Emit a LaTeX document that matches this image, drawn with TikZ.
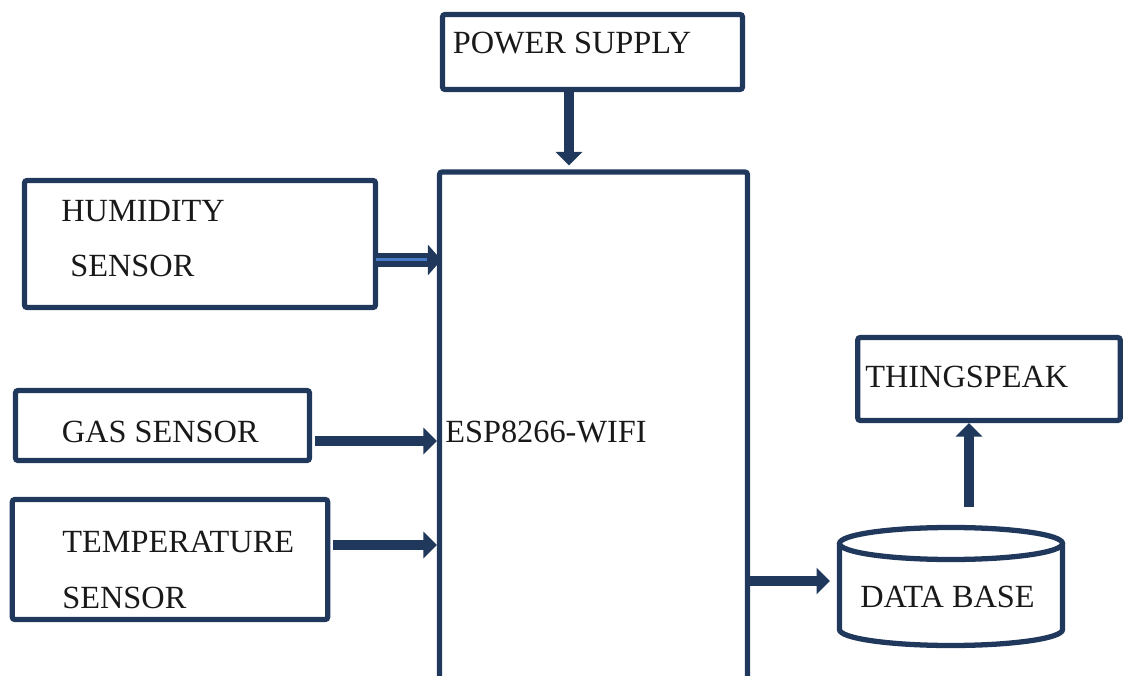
\documentclass[tikz,border=0pt]{standalone}
\usepackage{fontspec}
\setmainfont{Liberation Serif}
\usetikzlibrary{arrows.meta}
\definecolor{navy}{RGB}{31,56,91}
\definecolor{stripe}{RGB}{72,122,200}

\begin{document}
\begin{tikzpicture}[font=\fontsize{18.4}{22}\selectfont]
	\tikzstyle{box}=[draw=navy, line width=3pt, rounded corners=1.5pt, inner sep=0pt]
	\tikzstyle{txt}=[anchor=base west, inner sep=0pt, text=black!90]
	\tikzstyle{arr}=[navy, line width=0.2cm, -{Triangle[width=0.52cm,length=0.27cm]}]
	
	\useasboundingbox (0,0) rectangle (22.48,13.5);
	\clip (0,0) rectangle (22.48,13.5);
	
	% blocks
	\node[box, minimum width=6cm, minimum height=1.5cm] (power) at (11.85,12.46) {};
	\node[box, minimum width=6.16cm, minimum height=10.56cm] (esp) at (11.87,4.78) {};
	\node[box, minimum width=7.02cm, minimum height=2.54cm] (hum) at (4,8.62) {};
	\node[box, minimum width=5.88cm, minimum height=1.4cm] (gas) at (3.25,4.99) {};
	\node[box, minimum width=6.31cm, minimum height=2.4cm] (temp) at (3.4,2.31) {};
	\node[box, minimum width=5.25cm, minimum height=1.66cm] (thing) at (19.78,5.92) {};
	
	% data base
	\draw[navy, line width=3pt] (16.79,2.63) -- (16.79,0.91) arc[start angle=180, end angle=360, x radius=2.23cm, y radius=0.32cm] -- (21.25,2.63);
	\draw[navy, line width=3pt] (19.02,2.63) ellipse[x radius=2.23cm, y radius=0.32cm];
	
	% labels
	\node[txt] (power text) at (9.05,12.42) {POWER SUPPLY};
	\node[txt] (esp text) at (8.9,4.66) {ESP8266-WIFI};
	\node[txt] (hum text) at (1.22,9.06) {HUMIDITY};
	\node[txt] (hum text2) at (1.40,7.98) {SENSOR};
	\node[txt] (gas text) at (1.23,4.66) {GAS SENSOR};
	\node[txt] (temp text) at (1.24,2.46) {TEMPERATURE};
	\node[txt] (temp text2) at (1.24,1.34) {SENSOR};
	\node[txt] (thing text) at (17.3,5.76) {THINGSPEAK};
	\node[txt] (db) at (17.2,1.36) {DATA BASE};
	
	% connectors
	\coordinate (pwr out) at (11.38,11.71);
	\coordinate (hum out) at (7.51,8.3);
	\coordinate (gas out) at (6.3,4.68);
	\coordinate (temp out) at (6.66,2.6);
	\coordinate (db in) at (16.6,1.88);
	\coordinate (db out) at (19.38,3.36);
	
	\draw[arr] (pwr out) -- ([yshift=0.08cm]esp.north -| pwr out);
	\draw[arr, line width=0.27cm, -{Triangle[width=0.6cm,length=0.27cm]}] (hum out) -- ([xshift=0.09cm]esp.west |- hum out);
	\draw[stripe, line width=0.06cm] (hum out) -- ([xshift=-0.2cm]esp.west |- hum out);
	\draw[arr] (gas out) -- (esp.west |- gas out);
	\draw[arr] (temp out) -- (esp.west |- temp out);
	\draw[arr] (esp.east |- db in) -- (db in);
	\draw[arr] (db out) -- (thing.south -| db out);
\end{tikzpicture}
\end{document}
